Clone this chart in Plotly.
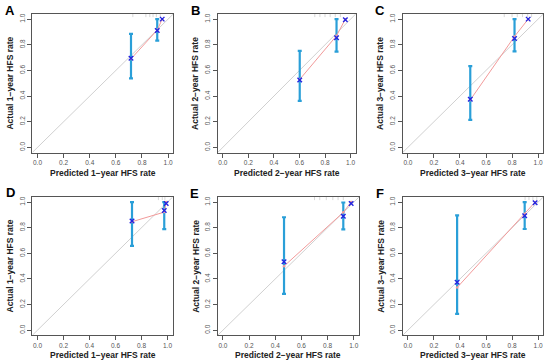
import plotly.graph_objects as go

W, H = 550, 364

panels = ["A", "B", "C", "D", "E", "F"]
years = ["1", "2", "3", "1", "2", "3"]

pred_A = [0.716, 0.917, 0.955]
obs_A = [0.690, 0.915, 1.000]
cor_A = [0.695, 0.912, 1.000]
lo_A = [0.538, 0.833, None]
hi_A = [0.885, 1.000, None]
rug_A = [0.73, 0.83, 0.86, 0.885, 0.91, 0.94]

pred_B = [0.602, 0.890, 0.959]
obs_B = [0.530, 0.870, 1.000]
cor_B = [0.526, 0.854, 0.995]
lo_B = [0.362, 0.747, None]
hi_B = [0.753, 1.000, None]
rug_B = [0.72, 0.76, 0.80, 0.84, 0.88, 0.92]

pred_C = [0.479, 0.819, 0.924]
obs_C = [0.370, 0.865, 1.000]
cor_C = [0.376, 0.849, 1.000]
lo_C = [0.214, 0.749, None]
hi_C = [0.634, 1.000, None]
rug_C = [0.74, 0.80, 0.84, 0.88, 0.92, 0.95]

pred_D = [0.727, 0.975, 0.990]
obs_D = [0.847, 0.922, 1.000]
cor_D = [0.852, 0.935, 0.990]
lo_D = [0.659, 0.789, None]
hi_D = [1.000, 1.000, None]
rug_D = [0.93, 0.96, 0.98]

pred_E = [0.467, 0.920, 0.980]
obs_E = [0.500, 0.920, 1.000]
cor_E = [0.535, 0.890, 0.990]
lo_E = [0.283, 0.787, None]
hi_E = [0.882, 0.997, None]
rug_E = [0.70, 0.74, 0.79, 0.84, 0.88, 0.92]

pred_F = [0.378, 0.897, 0.977]
obs_F = [0.333, 0.910, 1.000]
cor_F = [0.375, 0.893, 0.995]
lo_F = [0.128, 0.790, None]
hi_F = [0.896, 1.000, None]
rug_F = [0.90, 0.93, 0.96, 0.99]

preds = [pred_A, pred_B, pred_C, pred_D, pred_E, pred_F]
obss = [obs_A, obs_B, obs_C, obs_D, obs_E, obs_F]
cors = [cor_A, cor_B, cor_C, cor_D, cor_E, cor_F]
los = [lo_A, lo_B, lo_C, lo_D, lo_E, lo_F]
his = [hi_A, hi_B, hi_C, hi_D, hi_E, hi_F]
rugs = [rug_A, rug_B, rug_C, rug_D, rug_E, rug_F]

tick_vals = [0.0, 0.2, 0.4, 0.6, 0.8, 1.0]
tick_text = ["0.0", "0.2", "0.4", "0.6", "0.8", "1.0"]

# pixel boxes (left, right, top, bottom)
boxes = [
    (32.3, 173.3, 14.0, 152.5),
    (217.7, 355.7, 14.0, 152.5),
    (402.7, 543.3, 14.0, 152.5),
    (32.3, 172.7, 197.0, 335.3),
    (217.7, 359.0, 197.0, 335.3),
    (402.7, 543.3, 197.0, 335.3),
]
letter_pos = [(10, 10), (195, 10), (380, 10), (10, 192), (194, 193), (380, 193)]

RNG = [-0.04, 1.04]
BAR_COL = "#2A9FD8"
RED = "#F29A9A"
BLUE = "#2424E0"
FONT = "Liberation Sans, Arial, sans-serif"

fig = go.Figure()
annotations = []

for i in range(6):
    n = i + 1
    xa = "x" if n == 1 else f"x{n}"
    ya = "y" if n == 1 else f"y{n}"
    l, r, t, b = boxes[i]
    xd = [l / W, r / W]
    yd = [1 - b / H, 1 - t / H]
    common = dict(
        range=RNG, showgrid=False, zeroline=False, showline=True, mirror=True,
        linecolor="#555555", linewidth=1, ticks="outside", ticklen=4,
        tickcolor="#555555", tickwidth=1, tickvals=tick_vals, ticktext=tick_text,
        tickfont=dict(family=FONT, size=6.5, color="#555555"),
    )
    fig.layout[f"xaxis{'' if n == 1 else n}"] = dict(
        domain=xd, anchor=ya, **common
    )
    fig.layout[f"yaxis{'' if n == 1 else n}"] = dict(
        domain=yd, anchor=xa, tickangle=-90, **common
    )

    # identity line
    fig.add_trace(go.Scatter(
        x=RNG, y=RNG, mode="lines", xaxis=xa, yaxis=ya,
        line=dict(color="#D0D0D0", width=1), showlegend=False, hoverinfo="skip"))

    # rug marks at top
    fig.add_trace(go.Scatter(
        x=rugs[i], y=[1.032] * len(rugs[i]), mode="markers", xaxis=xa, yaxis=ya,
        marker=dict(symbol="line-ns", size=3, line=dict(color="#D8D8D8", width=1)),
        showlegend=False, hoverinfo="skip"))

    # error bars
    px, plo, phi = [], [], []
    for xv, lo, hi in zip(preds[i], los[i], his[i]):
        if lo is None:
            continue
        px.append(xv)
        plo.append(lo)
        phi.append(hi)
    mid = [(a + c) / 2 for a, c in zip(plo, phi)]
    fig.add_trace(go.Scatter(
        x=px, y=mid, mode="markers", xaxis=xa, yaxis=ya,
        marker=dict(size=0.1, color="rgba(0,0,0,0)"),
        error_y=dict(type="data", symmetric=False,
                     array=[h - m for h, m in zip(phi, mid)],
                     arrayminus=[m - lo for m, lo in zip(mid, plo)],
                     color=BAR_COL, thickness=2.2, width=2),
        showlegend=False, hoverinfo="skip"))

    # observed (red line)
    fig.add_trace(go.Scatter(
        x=preds[i], y=obss[i], mode="lines+markers", xaxis=xa, yaxis=ya,
        line=dict(color=RED, width=1), marker=dict(color=RED, size=2.5),
        showlegend=False))

    # bias-corrected (blue x)
    fig.add_trace(go.Scatter(
        x=preds[i], y=cors[i], mode="markers", xaxis=xa, yaxis=ya,
        marker=dict(symbol="x-thin", size=4.5, line=dict(color=BLUE, width=1.4)),
        showlegend=False))

    cx = (l + r) / 2
    cy = (t + b) / 2
    annotations.append(dict(
        text=f"<b>Predicted {years[i]}\u2212year HFS rate</b>",
        x=cx / W, y=1 - (b + 20) / H, xref="paper", yref="paper",
        xanchor="center", yanchor="middle", showarrow=False,
        font=dict(family=FONT, size=8.5, color="#222222")))
    annotations.append(dict(
        text=f"<b>Actual {years[i]}\u2212year HFS rate</b>",
        x=(l - 22) / W, y=1 - cy / H, xref="paper", yref="paper",
        xanchor="center", yanchor="middle", showarrow=False, textangle=-90,
        font=dict(family=FONT, size=8.5, color="#222222")))
    lx, ly = letter_pos[i]
    annotations.append(dict(
        text=f"<b>{panels[i]}</b>", x=lx / W, y=1 - ly / H, xref="paper",
        yref="paper", xanchor="center", yanchor="middle", showarrow=False,
        font=dict(family=FONT, size=13, color="#000000")))

fig.update_layout(
    width=W, height=H, margin=dict(l=0, r=0, t=0, b=0),
    paper_bgcolor="white", plot_bgcolor="white",
    annotations=annotations, showlegend=False,
)

fig.write_html(
    "out.html",
    config={"displayModeBar": False},
    post_script="document.body.style.margin='0';document.body.style.padding='0';",
)
